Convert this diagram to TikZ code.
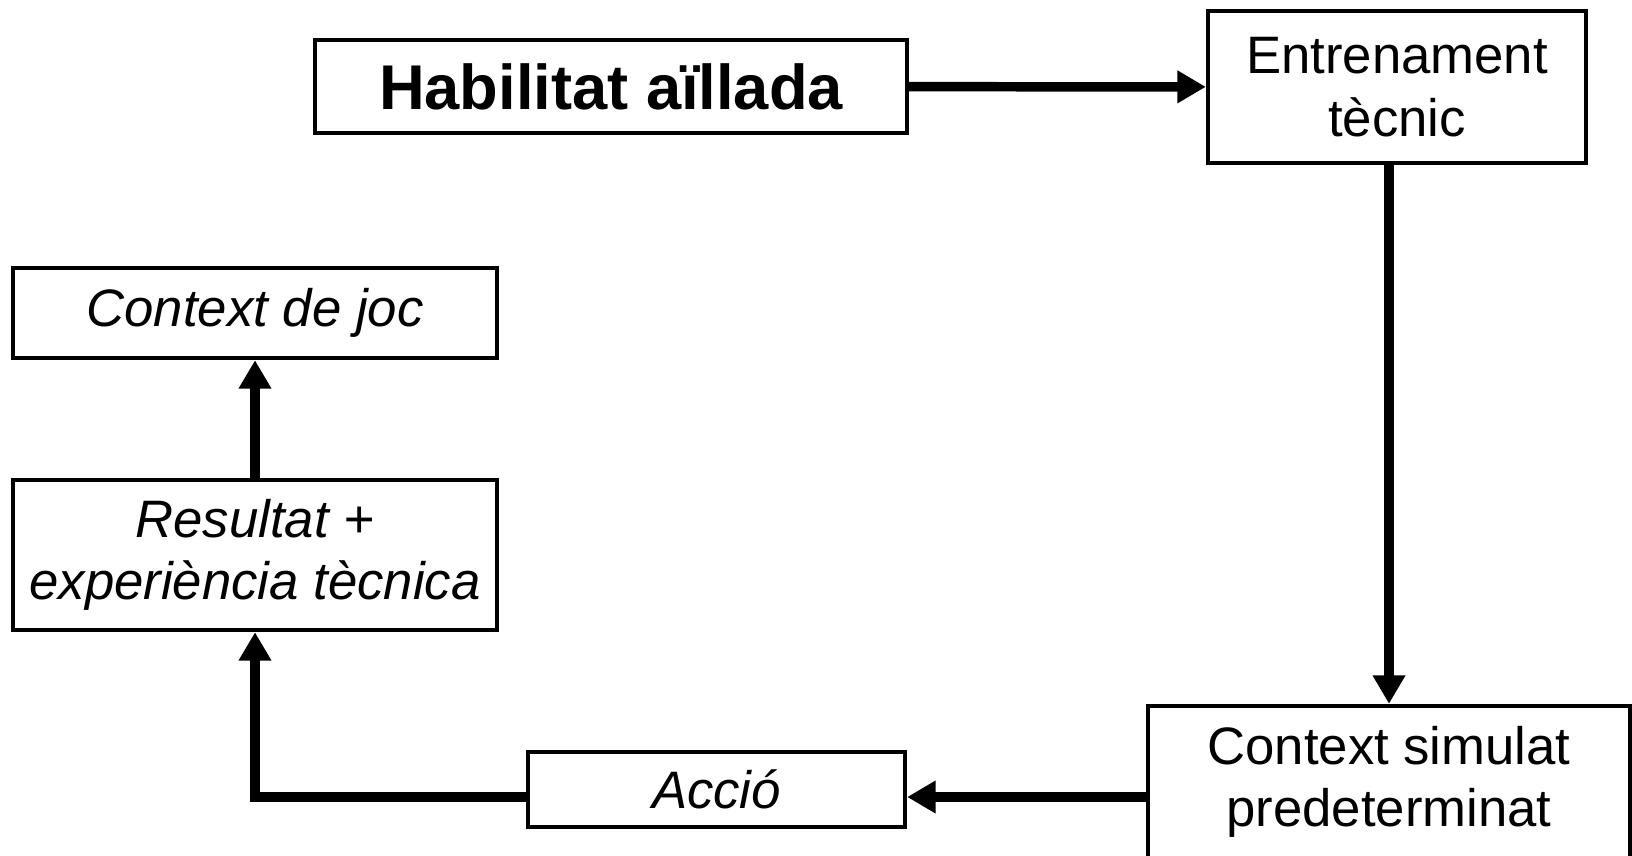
\documentclass[tikz,border=0pt]{standalone}
\usepackage{fontspec}
\setmainfont{Liberation Sans}
\usetikzlibrary{arrows.meta}

\tikzset{
  box/.style={draw, line width=2.5pt, inner sep=0pt, align=center,
    font=\fontsize{30}{35.7}\selectfont},
  flow/.style={line width=5.4pt, -{Triangle[width=0.62cm,length=0.57cm]}},
}

\begin{document}
\begin{tikzpicture}[x=0.02cm, y=-0.02cm]
  \fill[white] (0,0) rectangle (1632,855);
  \useasboundingbox (0,0) rectangle (1632,855);

  \node[box, minimum width=11.84cm, minimum height=1.86cm,
    font=\fontsize{36}{42}\selectfont\bfseries] (hab) at (611,86.5) {Habilitat aïllada};
  \node[box, minimum width=7.56cm, minimum height=3.04cm] (entr) at (1397,87) {Entrenament\\tècnic};
  \node[box, minimum width=9.64cm, minimum height=3.04cm] (sim) at (1389,782) {Context simulat\\predeterminat};
  \node[box, minimum width=7.54cm, minimum height=1.5cm, font=\fontsize{30}{35.7}\selectfont\itshape] (accio) at (716.5,789.5) {Acció};
  \node[box, minimum width=9.68cm, minimum height=3cm, font=\fontsize{30}{35.7}\selectfont\itshape] (res) at (255,555) {Resultat +\\experiència tècnica};
  \node[box, minimum width=9.68cm, minimum height=1.8cm, font=\fontsize{30}{35.7}\selectfont\itshape] (joc) at (255,313) {Context de joc};
  \coordinate (lowline) at (0,797);

  \draw[flow] (hab) -- (entr);
  \draw[flow] (entr.south -| sim.north) -- (sim.north);
  \draw[flow] (sim.west |- lowline) -- (accio.east |- lowline);
  \draw[flow] (accio.west |- lowline) -| (res.south);
  \draw[flow] (res) -- (joc);
\end{tikzpicture}
\end{document}
